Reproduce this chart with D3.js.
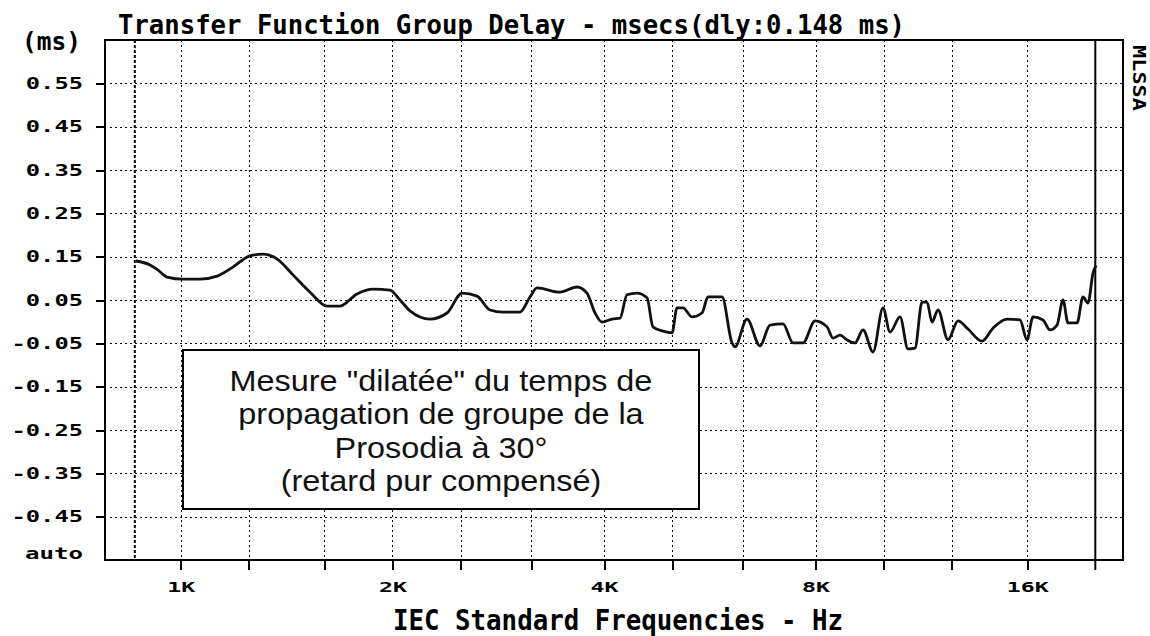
<!DOCTYPE html>
<meta charset="utf-8">
<style>

body {
  margin: 0;
  background: #fff;
}

svg {
  display: block;
}

.grid line {
  stroke: #000;
  stroke-width: 1;
  stroke-dasharray: 2,3;
  shape-rendering: crispEdges;
}

.axis path {
  display: none;
}

.axis line {
  stroke: #000;
  stroke-width: 2;
  shape-rendering: crispEdges;
}

.axis text, .mono {
  font-family: "DejaVu Sans Mono", monospace;
  font-weight: bold;
  fill: #000;
}

</style>
<body>
<script src="https://d3js.org/d3.v7.min.js"></script>
<script>

// group delay curve (Hz, ms)
var freqs = [863, 904, 928, 956, 1007, 1065, 1126, 1186, 1254, 1309, 1370, 1444, 1527, 1614, 1684,
  1781, 1877, 1984, 2050, 2119, 2262, 2392, 2512, 2639, 2753, 2873, 3038, 3139, 3212, 3463,
  3661, 3783, 3884, 3974, 4106, 4215, 4313, 4456, 4605, 4696, 4853, 4998, 5081, 5181, 5336,
  5514, 5623, 5887, 6084, 6144, 6390, 6668, 6890, 7190, 7430, 7677, 7985, 8305, 8469, 8667,
  8867, 9103, 9344, 9656, 9977, 10209, 10548, 10828, 11080, 11337, 11524, 11714, 11946, 12344,
  12755, 13180, 13800, 14305, 14977, 15627, 15991, 16308, 16851, 17242, 17643, 17992, 18290,
  18837, 19210, 19527, 19850, 20050];
var delays = [0.140, 0.131, 0.119, 0.103, 0.098, 0.098, 0.105, 0.126, 0.152, 0.156, 0.145, 0.108, 0.068, 0.036, 0.036,
  0.064, 0.075, 0.073, 0.050, 0.025, 0.006, 0.020, 0.066, 0.059, 0.027, 0.022, 0.022, 0.057, 0.078, 0.068,
  0.080, 0.066, 0.020, -0.001, 0.006, 0.008, 0.062, 0.066, 0.055, -0.012, -0.022, -0.026, 0.032, 0.032, 0.011,
  0.020, 0.057, 0.057, -0.049, -0.058, 0.006, -0.056, -0.008, -0.005, -0.049, -0.049, 0.002, -0.012, -0.038, -0.031,
  -0.042, -0.049, -0.019, -0.070, 0.032, -0.024, 0.011, -0.063, -0.061, 0.045, 0.045, -0.001, 0.027, -0.042,
  0.002, -0.017, -0.045, -0.015, 0.006, 0.004, -0.042, 0.011, 0.004, -0.019, -0.008, 0.050, -0.003,
  -0.003, 0.057, 0.043, 0.112, 0.130];

var yTicks = [0.55, 0.45, 0.35, 0.25, 0.15, 0.05, -0.05, -0.15, -0.25, -0.35, -0.45];
var yTickLabels = ["0.55", "0.45", "0.35", "0.25", "0.15", "0.05", "-0.05", "-0.15", "-0.25", "-0.35", "-0.45"];
var bandFreqs = [1000, 1250, 1600, 2000, 2500, 3150, 4000, 5000, 6300, 8000, 10000, 12500, 16000];
var labelFreqs = [1000, 2000, 4000, 8000, 16000];
var labelText = ["1K", "2K", "4K", "8K", "16K"];
var cursorFreq = 860;
var endFreq = 20000;
var boxLines = ["Mesure \"dilatée\" du temps de", "propagation de groupe de la", "Prosodia à 30°", "(retard pur compensé)"];

var width = 1150, height = 636;
var plotLeft = 105, plotRight = 1123, plotTop = 40, plotBottom = 560;

var x = d3.scaleLog().domain([780, 21900]).range([plotLeft, plotRight]);
var y = d3.scaleLinear().domain([-0.55, 0.65]).range([plotBottom, plotTop]);

var svg = d3.select("body").append("svg")
    .attr("width", width)
    .attr("height", height);

// grid
var grid = svg.append("g").attr("class", "grid");

grid.selectAll(".h")
    .data(yTicks)
  .enter().append("line")
    .attr("x1", plotLeft + 5)
    .attr("x2", plotRight)
    .attr("y1", function(d) { return Math.round(y(d)) + 0.5; })
    .attr("y2", function(d) { return Math.round(y(d)) + 0.5; });

grid.selectAll(".v")
    .data(bandFreqs)
  .enter().append("line")
    .attr("x1", function(d) { return Math.round(x(d)) + 0.5; })
    .attr("x2", function(d) { return Math.round(x(d)) + 0.5; })
    .attr("y1", plotTop)
    .attr("y2", plotBottom);

// start cursor (dense dots) and end marker
svg.append("line")
    .attr("x1", x(cursorFreq)).attr("x2", x(cursorFreq))
    .attr("y1", plotTop).attr("y2", plotBottom)
    .attr("stroke", "#000")
    .attr("stroke-width", 2)
    .attr("stroke-dasharray", "3,2");

svg.append("line")
    .attr("x1", x(endFreq)).attr("x2", x(endFreq))
    .attr("y1", plotTop).attr("y2", plotBottom + 10)
    .attr("stroke", "#000")
    .attr("stroke-width", 2);

// axes
var yAxis = svg.append("g")
    .attr("class", "axis")
    .attr("transform", "translate(" + plotLeft + ",0)")
    .call(d3.axisLeft(y)
      .tickValues(yTicks)
      .tickSize(9)
      .tickPadding(13)
      .tickFormat(function(d, i) { return yTickLabels[i]; }));

yAxis.selectAll("text")
    .style("font-size", "16px")
    .attr("textLength", function(d, i) { return yTickLabels[i].length * 14.3; })
    .attr("lengthAdjust", "spacingAndGlyphs");

svg.append("text")
    .attr("class", "mono")
    .attr("x", 83)
    .attr("y", y(-0.55) - 6)
    .attr("dy", "0.32em")
    .attr("text-anchor", "end")
    .style("font-size", "16px")
    .attr("textLength", 58)
    .attr("lengthAdjust", "spacingAndGlyphs")
    .text("auto");

var xAxis = svg.append("g")
    .attr("class", "axis")
    .attr("transform", "translate(0," + plotBottom + ")")
    .call(d3.axisBottom(x)
      .tickValues(bandFreqs)
      .tickSize(10)
      .tickPadding(12)
      .tickFormat(function(d) {
        var i = labelFreqs.indexOf(d);
        return i < 0 ? "" : labelText[i];
      }));

xAxis.selectAll("text")
    .style("font-size", "14px")
    .attr("textLength", function() { return this.textContent.length * 14; })
    .attr("lengthAdjust", "spacingAndGlyphs");

// frame
svg.append("rect")
    .attr("x", plotLeft)
    .attr("y", plotTop)
    .attr("width", plotRight - plotLeft)
    .attr("height", plotBottom - plotTop)
    .attr("fill", "none")
    .attr("stroke", "#000")
    .attr("stroke-width", 2);

// curve
var line = d3.line()
    .x(function(d) { return x(d[0]); })
    .y(function(d) { return y(d[1]); })
    .curve(d3.curveMonotoneX);

svg.append("path")
    .datum(freqs.map(function(f, i) { return [f, delays[i]]; }))
    .attr("d", line)
    .attr("fill", "none")
    .attr("stroke", "#111")
    .attr("stroke-width", 2.8)
    .attr("stroke-linejoin", "round");

// annotation box
var box = svg.append("g");

box.append("rect")
    .attr("x", 183)
    .attr("y", 350)
    .attr("width", 516)
    .attr("height", 159)
    .attr("fill", "#fff")
    .attr("stroke", "#000")
    .attr("stroke-width", 2);

box.selectAll(".boxline")
    .data(boxLines)
  .enter().append("text")
    .attr("transform", function(d, i) { return "translate(441," + (391 + i * 33.3) + ") scale(1.08,1)"; })
    .attr("text-anchor", "middle")
    .style("font-family", "'Liberation Sans', Arial, sans-serif")
    .style("font-size", "30px")
    .style("fill", "#111")
    .text(function(d) { return d; });

// titles
svg.append("text")
    .attr("class", "mono")
    .attr("x", 118)
    .attr("y", 34)
    .style("font-size", "26px")
    .attr("textLength", 787)
    .attr("lengthAdjust", "spacingAndGlyphs")
    .text("Transfer Function Group Delay - msecs(dly:0.148 ms)");

svg.append("text")
    .attr("class", "mono")
    .attr("x", 22)
    .attr("y", 50)
    .style("font-size", "24px")
    .attr("textLength", 59)
    .attr("lengthAdjust", "spacingAndGlyphs")
    .text("(ms)");

svg.append("text")
    .attr("class", "mono")
    .attr("x", 393)
    .attr("y", 630)
    .style("font-size", "29px")
    .attr("textLength", 450)
    .attr("lengthAdjust", "spacingAndGlyphs")
    .text("IEC Standard Frequencies - Hz");

svg.append("text")
    .attr("class", "mono")
    .attr("transform", "translate(1133,45) rotate(90)")
    .style("font-size", "18px")
    .attr("textLength", 66)
    .attr("lengthAdjust", "spacingAndGlyphs")
    .text("MLSSA");

</script>
</body>
